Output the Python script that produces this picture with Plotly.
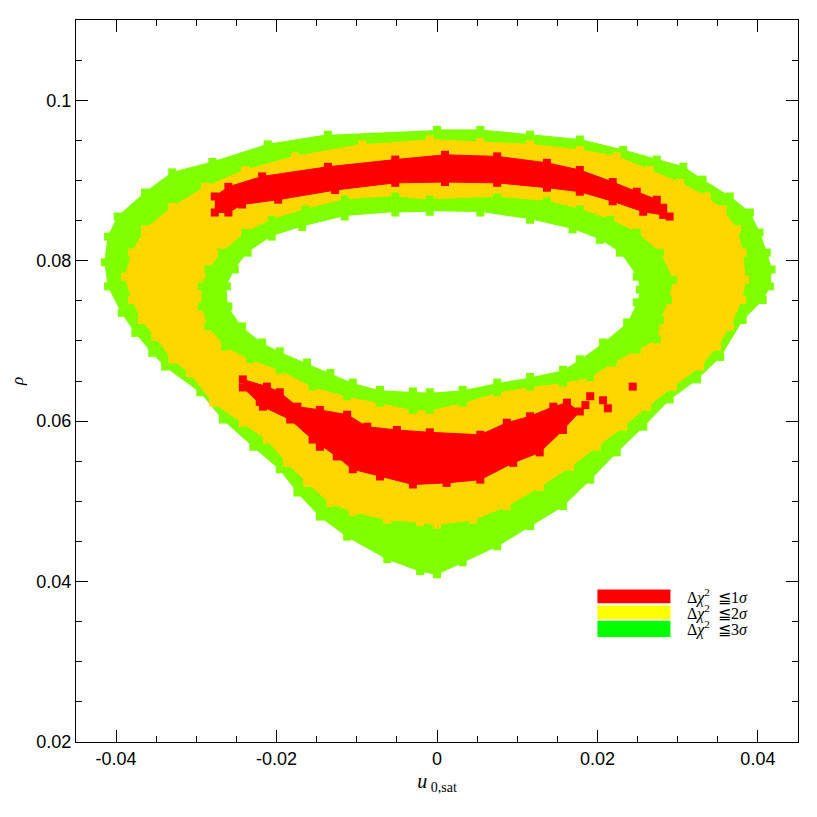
import plotly.graph_objects as go

# outer edge of the 3-sigma region (u0,sat, rho)
green_outer_x = [0, 0.0054, 0.0116, 0.0178, 0.0232, 0.0274, 0.0307, 0.0331, 0.0365, 0.0390, 0.0402, 0.0411,
                 0.0417, 0.0415, 0.0406, 0.0381, 0.0353, 0.0324, 0.0290, 0.0257, 0.0224, 0.0191, 0.0157, 0.0116,
                 0.0075, 0.0032, 0, -0.0021, -0.0062, -0.0112, -0.0146, -0.0174, -0.0196, -0.0229, -0.0267,
                 -0.0295, -0.0339, -0.0355, -0.0376, -0.0393, -0.0410, -0.0414, -0.0410, -0.0398, -0.0364,
                 -0.0330, -0.0280, -0.0211, -0.0136]
green_outer_y = [0.0963, 0.0963, 0.0957, 0.0951, 0.0938, 0.0926, 0.0917, 0.0901, 0.0880, 0.0860, 0.0835, 0.0810,
                 0.0789, 0.0768, 0.0751, 0.0726, 0.0680, 0.0652, 0.0627, 0.0593, 0.0561, 0.0527, 0.0494, 0.0469,
                 0.0444, 0.0424, 0.0409, 0.0413, 0.0428, 0.0456, 0.0481, 0.0511, 0.0540, 0.0568, 0.0602,
                 0.0636, 0.0668, 0.0685, 0.0710, 0.0735, 0.0768, 0.0798, 0.0830, 0.0855, 0.0885,
                 0.0910, 0.0923, 0.0945, 0.0957]

# outer edge of the 2-sigma region
yellow_outer_x = [-0.0009, 0.0054, 0.0116, 0.0178, 0.0224, 0.0265, 0.0303, 0.0336, 0.0356, 0.0374, 0.0381, 0.0384,
                  0.0380, 0.0365, 0.0349, 0.0328, 0.0294, 0.0262, 0.0232, 0.0199, 0.0166, 0.0128, 0.0087, 0.0045,
                  0, -0.0021, -0.0062, -0.0105, -0.0133, -0.0162, -0.0187, -0.0212, -0.0242, -0.0279, -0.0308,
                  -0.0330, -0.0351, -0.0368, -0.0380, -0.0389, -0.0380, -0.0364, -0.0330, -0.0289, -0.0239,
                  -0.0177, -0.0093]
yellow_outer_y = [0.0951, 0.0948, 0.0945, 0.0938, 0.0930, 0.0913, 0.0897, 0.0880, 0.0864, 0.0839, 0.0810, 0.0776,
                  0.0751, 0.0718, 0.0693, 0.0668, 0.0643, 0.0618, 0.0593, 0.0568, 0.0543, 0.0518, 0.0494, 0.0477,
                  0.0471, 0.0474, 0.0477, 0.0487, 0.0498, 0.0523, 0.0548, 0.0577, 0.0598, 0.0623, 0.0660,
                  0.0677, 0.0705, 0.0726, 0.0751, 0.0780, 0.0810, 0.0839, 0.0867, 0.0892, 0.0913,
                  0.0930, 0.0945]

# inner edge of the 2-sigma region
yellow_inner_x = [-0.0009, 0.0075, 0.0137, 0.0178, 0.0216, 0.0249, 0.0278, 0.0294, 0.0288, 0.0278, 0.0274, 0.0249,
                  0.0219, 0.0191, 0.0157, 0.0116, 0.0075, 0.0032, -0.0009, -0.0030, -0.0071, -0.0112, -0.0155,
                  -0.0196, -0.0233, -0.0264, -0.0285, -0.0293, -0.0293, -0.0285, -0.0268, -0.0239, -0.0206,
                  -0.0164, -0.0115, -0.0052]
yellow_inner_y = [0.0876, 0.0879, 0.0874, 0.0864, 0.0851, 0.0835, 0.0810, 0.0776, 0.0751, 0.0726, 0.0702, 0.0689,
                  0.0673, 0.0655, 0.0648, 0.0643, 0.0636, 0.0623, 0.0614, 0.0614, 0.0623, 0.0631, 0.0643,
                  0.0664, 0.0677, 0.0693, 0.0718, 0.0743, 0.0768, 0.0789, 0.0810, 0.0835, 0.0851,
                  0.0864, 0.0876, 0.0880]

# inner edge of the 3-sigma region (empty hole)
hole_x = [-0.0009, 0.0054, 0.0116, 0.0169, 0.0203, 0.0228, 0.0249, 0.0253, 0.0249, 0.0237, 0.0207, 0.0178, 0.0157,
          0.0116, 0.0075, 0.0032, -0.0009, -0.0030, -0.0071, -0.0105, -0.0133, -0.0162, -0.0196, -0.0218,
          -0.0243, -0.0260, -0.0262, -0.0252, -0.0236, -0.0206, -0.0168, -0.0115, -0.0052]
hole_y = [0.0861, 0.0860, 0.0851, 0.0839, 0.0826, 0.0810, 0.0780, 0.0764, 0.0748, 0.0723, 0.0698, 0.0677, 0.0664,
          0.0655, 0.0648, 0.0639, 0.0636, 0.0637, 0.0639, 0.0648, 0.0660, 0.0673, 0.0687, 0.0698,
          0.0718, 0.0743, 0.0768, 0.0789, 0.0810, 0.0830, 0.0842, 0.0855, 0.0860]

# 1-sigma regions
red_upper_x = [-0.0277, -0.0260, -0.0218, -0.0136, -0.0052, 0.0010, 0.0075, 0.0137, 0.0178, 0.0219, 0.0249, 0.0274,
               0.0282, 0.0282, 0.0257, 0.0219, 0.0178, 0.0137, 0.0075, 0.0010, -0.0052, -0.0127, -0.0198,
               -0.0243, -0.0260, -0.0277]
red_upper_y = [0.0880, 0.0892, 0.0905, 0.0917, 0.0926, 0.0932, 0.0930, 0.0922, 0.0913, 0.0898, 0.0886, 0.0876,
               0.0866, 0.0857, 0.0861, 0.0874, 0.0886, 0.0891, 0.0897, 0.0898, 0.0897, 0.0888, 0.0876,
               0.0870, 0.0860, 0.0860]

red_lower_x = [-0.0242, -0.0212, -0.0196, -0.0174, -0.0146, -0.0112, -0.0087, -0.0050, -0.0009, 0.0054, 0.0087,
               0.0116, 0.0145, 0.0162, 0.0178, 0.0157, 0.0128, 0.0095, 0.0054, 0.0012, -0.0030, -0.0071,
               -0.0105, -0.0125, -0.0155, -0.0183, -0.0217, -0.0242]
red_lower_y = [0.0652, 0.0643, 0.0636, 0.0618, 0.0614, 0.0608, 0.0593, 0.0589, 0.0586, 0.0583, 0.0598,
               0.0606, 0.0618, 0.0623, 0.0612, 0.0589, 0.0561, 0.0548, 0.0527, 0.0523, 0.0521, 0.0531,
               0.0540, 0.0556, 0.0577, 0.0602, 0.0618, 0.0642]

red_stray_x = [0.0290, 0.0244, 0.0191, 0.0207, 0.0213, 0.0185, -0.0146, -0.0221]
red_stray_y = [0.0855, 0.0643, 0.0631, 0.0626, 0.0616, 0.0620, 0.0568, 0.0624]

legend_labels = ['Δ<i>χ</i><sup>2</sup>&nbsp; ≦1<i>σ</i>', 'Δ<i>χ</i><sup>2</sup>&nbsp; ≦2<i>σ</i>',
                 'Δ<i>χ</i><sup>2</sup>&nbsp; ≦3<i>σ</i>']
legend_colors = ['#ff0000', '#ffff00', '#00ff00']

RED = '#ff0000'
GOLD = '#ffd700'
LIME = '#7fff00'
SERIF = 'Liberation Serif, DejaVu Serif'


def region(xs, ys, color, marker_color=None):
    return go.Scatter(x=xs, y=ys, fill='toself', fillcolor=color, mode='lines+markers' if marker_color else 'lines',
                      line=dict(color=color, width=1),
                      marker=dict(symbol='square', size=8, color=marker_color or color, line=dict(width=0)),
                      hoverinfo='skip', showlegend=False)


fig = go.Figure()
fig.add_trace(region(green_outer_x, green_outer_y, LIME, LIME))
fig.add_trace(region(yellow_outer_x, yellow_outer_y, GOLD, GOLD))
fig.add_trace(region(yellow_inner_x, yellow_inner_y, LIME, LIME))
fig.add_trace(region(hole_x, hole_y, 'white'))
fig.add_trace(go.Scatter(x=hole_x, y=hole_y, mode='markers',
                         marker=dict(symbol='square', size=8, color=LIME), hoverinfo='skip', showlegend=False))
fig.add_trace(region(red_upper_x, red_upper_y, RED, RED))
fig.add_trace(region(red_lower_x, red_lower_y, RED, RED))
fig.add_trace(go.Scatter(x=red_stray_x, y=red_stray_y, mode='markers',
                         marker=dict(symbol='square', size=8, color=RED), hoverinfo='skip', showlegend=False))

# legend drawn by hand, like the original
box_top = [0.0390, 0.0370, 0.0351]
box_bot = [0.0373, 0.0353, 0.0331]
for i, lab in enumerate(legend_labels):
    fig.add_shape(type='rect', xref='x', yref='y', x0=0.0200, x1=0.0291, y0=box_bot[i], y1=box_top[i],
                  fillcolor=legend_colors[i], line=dict(width=0))
    fig.add_annotation(x=0.0309, y=(box_bot[i] + box_top[i]) / 2, xref='x', yref='y', text=lab, showarrow=False,
                       xanchor='left', yanchor='middle',
                       font=dict(family=SERIF, size=16, color='black'))

axis_style = dict(showline=True, linecolor='black', linewidth=1, mirror='ticks', ticks='inside', ticklen=12,
                  tickcolor='black', tickwidth=1, showgrid=False, zeroline=False, automargin=False,
                  tickfont=dict(family='Liberation Sans, Arial', size=18, color='black'))

# the page body adds 8px around the figure, so the figure is a bit smaller than the window
fig.update_layout(
    width=809, height=809,
    margin=dict(l=68, r=19, t=12, b=75),
    plot_bgcolor='white', paper_bgcolor='white',
    xaxis=dict(range=[-0.045, 0.045], tickvals=[-0.04, -0.02, 0, 0.02, 0.04],
               ticktext=['-0.04', '-0.02', '0', '0.02', '0.04'],
               minor=dict(dtick=0.005, tick0=0, ticks='inside', ticklen=6, tickcolor='black', showgrid=False),
               title=dict(text='<i>u</i><sub> 0,sat</sub>', standoff=6,
                          font=dict(family=SERIF, size=20, color='black')),
               **axis_style),
    yaxis=dict(range=[0.02, 0.11], tickvals=[0.02, 0.04, 0.06, 0.08, 0.1],
               ticktext=['0.02', '0.04', '0.06', '0.08', '0.1'],
               minor=dict(dtick=0.005, tick0=0, ticks='inside', ticklen=6, tickcolor='black', showgrid=False),
               title=dict(text='<i>ρ</i>', standoff=16,
                          font=dict(family=SERIF, size=17, color='black')),
               **axis_style),
)

fig.write_html("out.html")
